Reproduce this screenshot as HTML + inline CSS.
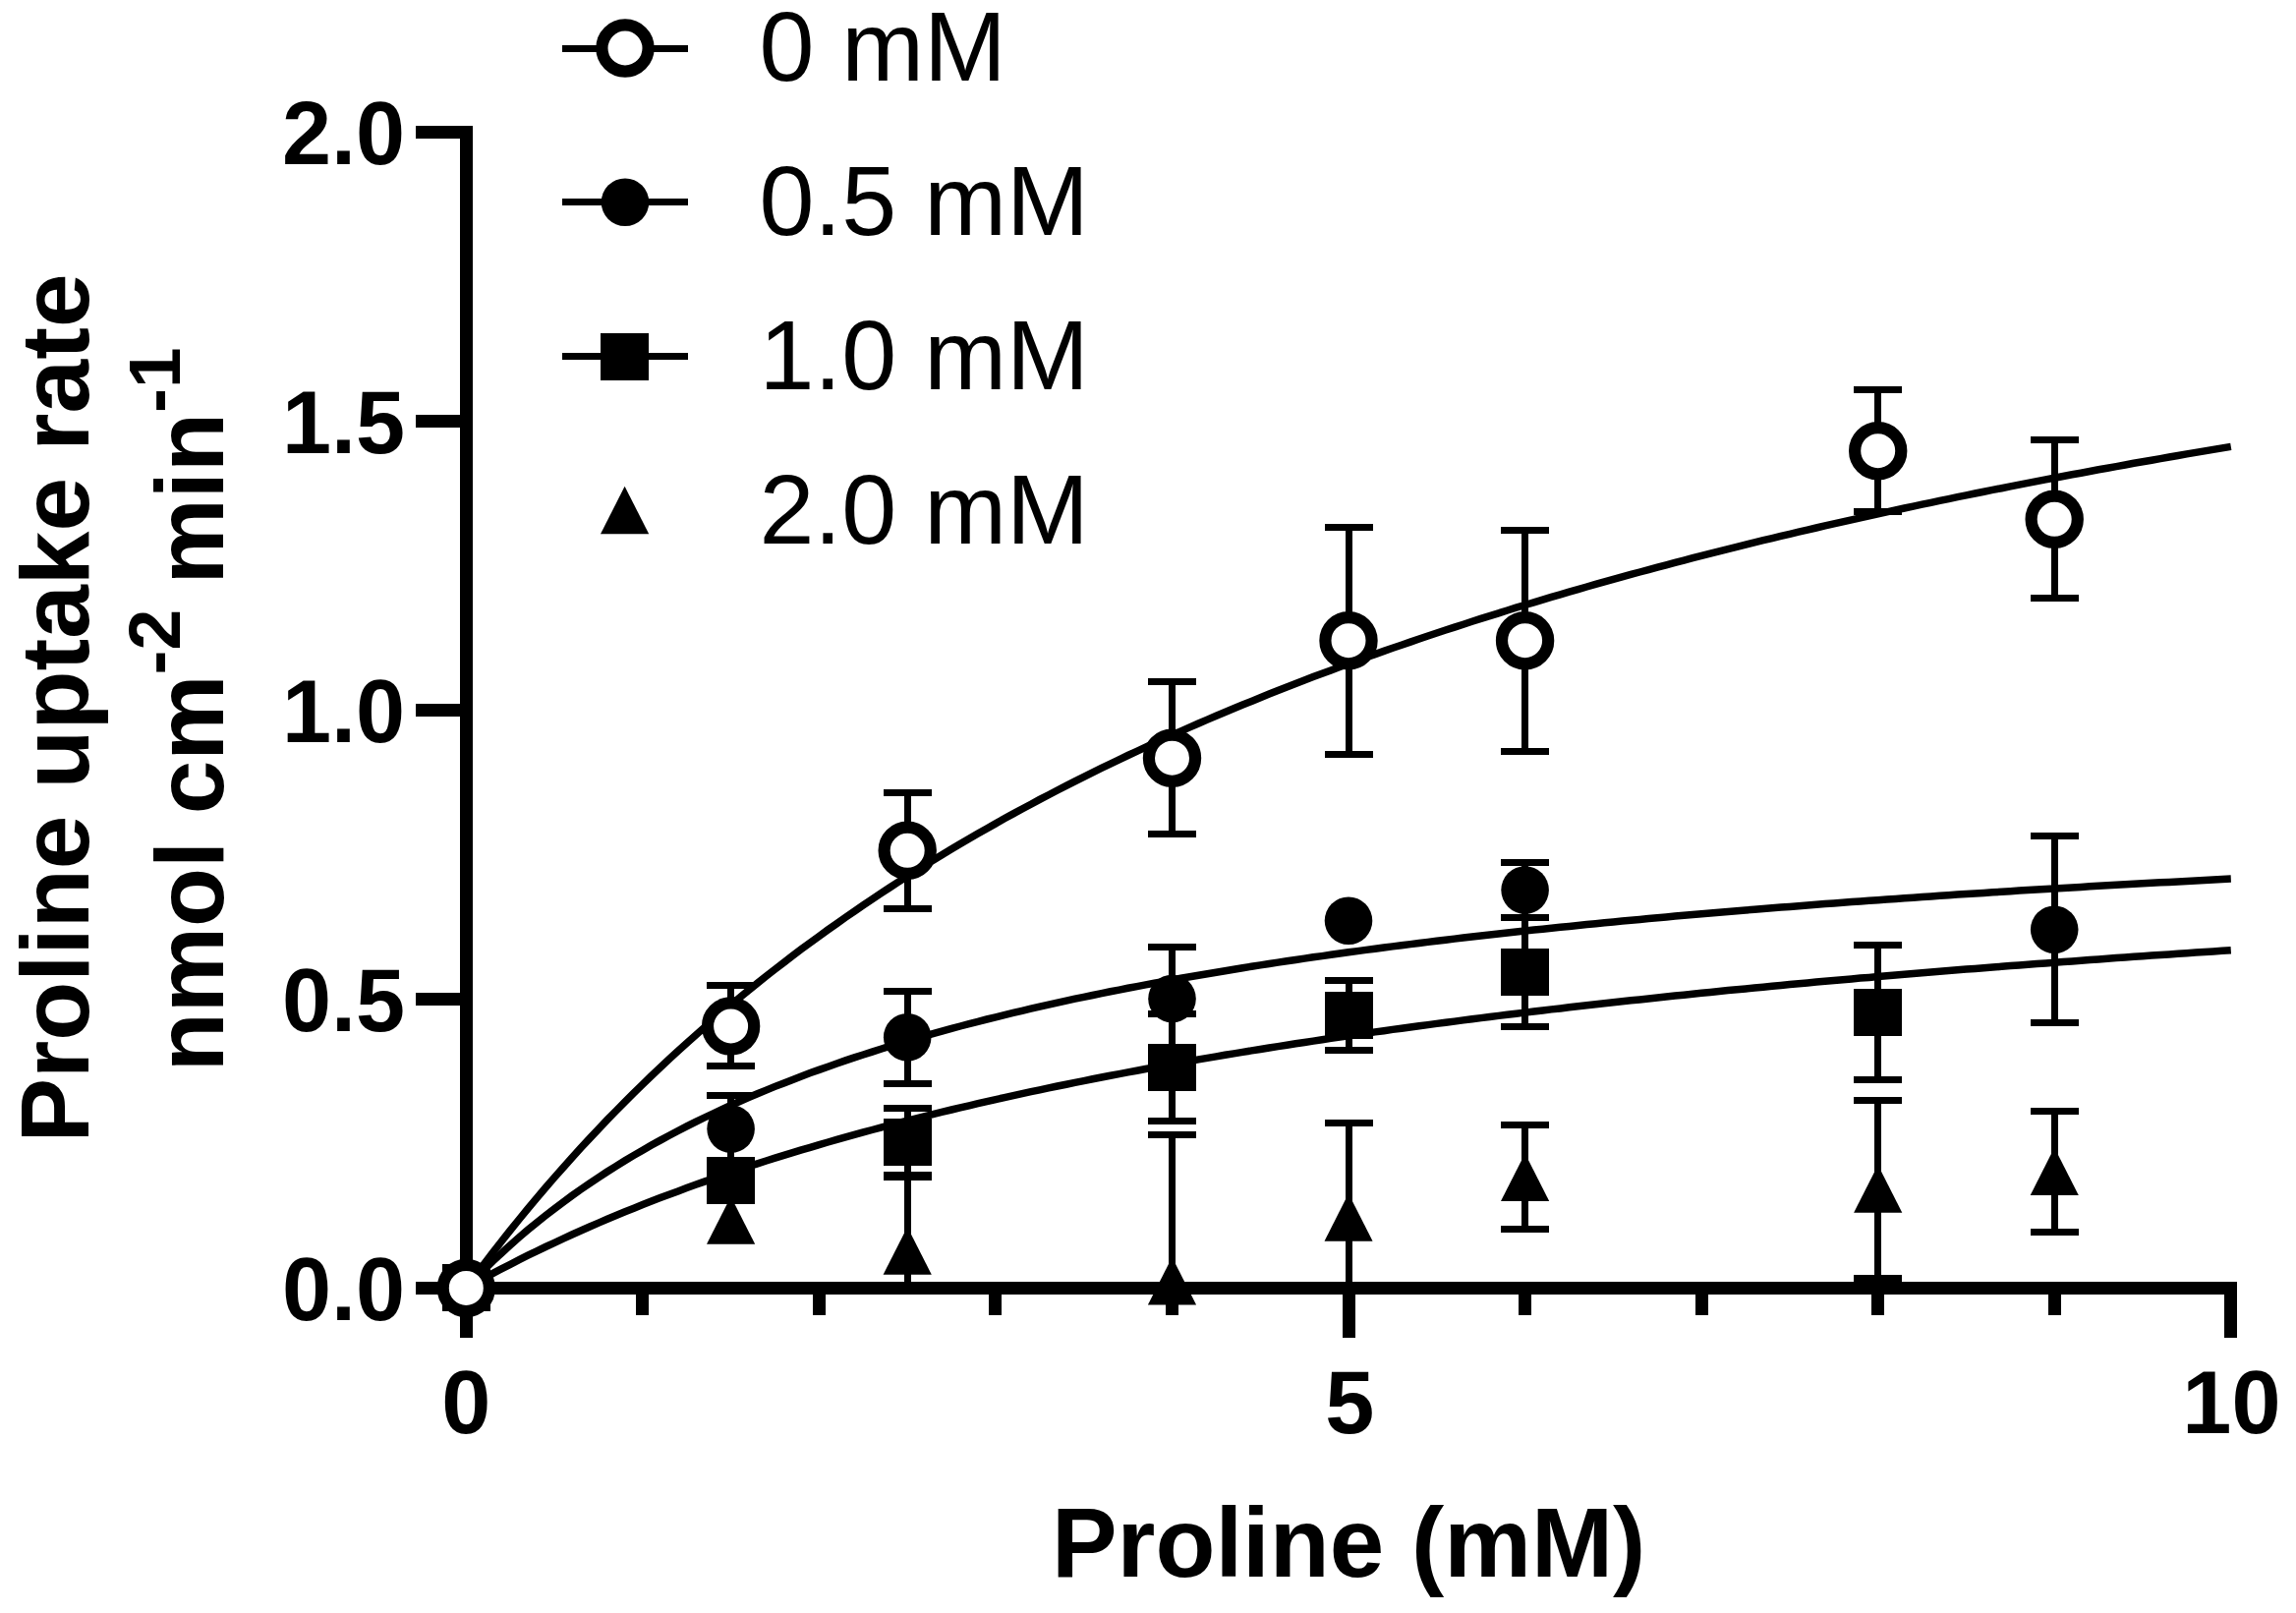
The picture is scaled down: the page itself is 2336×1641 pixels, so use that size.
<!DOCTYPE html>
<html lang="en"><head><meta charset="utf-8"><title>Proline uptake rate</title>
<style>html,body{margin:0;padding:0;background:#fff;}body{width:2336px;height:1641px;overflow:hidden;}svg{display:block;}text{font-family:"Liberation Sans",Arial,Helvetica,sans-serif;fill:#000;}.b{font-weight:bold;}</style>
</head><body>
<svg width="2336" height="1641" viewBox="0 0 2336 1641">
<rect x="0" y="0" width="2336" height="1641" fill="#fff"/>
<g fill="#000" shape-rendering="crispEdges">
<rect x="468" y="128" width="13" height="1189"/>
<rect x="468" y="1304" width="1808" height="13"/>
<rect x="423" y="1304.0" width="46" height="13"/>
<rect x="423" y="1010.0" width="46" height="13"/>
<rect x="423" y="716.0" width="46" height="13"/>
<rect x="423" y="422.0" width="46" height="13"/>
<rect x="423" y="128.0" width="46" height="13"/>
<rect x="468.0" y="1316" width="13" height="45.0"/>
<rect x="647.0" y="1316" width="13" height="22.0"/>
<rect x="827.0" y="1316" width="13" height="22.0"/>
<rect x="1006.0" y="1316" width="13" height="22.0"/>
<rect x="1186.0" y="1316" width="13" height="22.0"/>
<rect x="1366.0" y="1316" width="13" height="45.0"/>
<rect x="1545.0" y="1316" width="13" height="22.0"/>
<rect x="1725.0" y="1316" width="13" height="22.0"/>
<rect x="1904.0" y="1316" width="13" height="22.0"/>
<rect x="2084.0" y="1316" width="13" height="22.0"/>
<rect x="2263.0" y="1316" width="13" height="45.0"/>
</g>
<g fill="none" stroke="#000" stroke-width="7.5" stroke-linecap="butt" stroke-linejoin="round">
<path d="M474.3,1310.4 L483.3,1298.2 L492.3,1286.2 L501.2,1274.5 L510.2,1263.0 L519.2,1251.6 L528.2,1240.5 L537.1,1229.6 L546.1,1218.8 L555.1,1208.3 L564.1,1197.9 L573.1,1187.7 L582.0,1177.7 L591.0,1167.8 L600.0,1158.1 L609.0,1148.6 L617.9,1139.2 L626.9,1130.0 L635.9,1120.9 L644.9,1111.9 L653.9,1103.1 L662.8,1094.5 L671.8,1086.0 L680.8,1077.6 L689.8,1069.3 L698.7,1061.2 L707.7,1053.2 L716.7,1045.3 L725.7,1037.5 L734.6,1029.8 L743.6,1022.3 L752.6,1014.8 L761.6,1007.5 L770.6,1000.3 L779.5,993.1 L788.5,986.1 L797.5,979.2 L806.5,972.3 L815.4,965.6 L824.4,959.0 L833.4,952.4 L842.4,945.9 L851.4,939.6 L860.3,933.3 L869.3,927.1 L878.3,920.9 L887.3,914.9 L896.2,908.9 L905.2,903.0 L914.2,897.2 L923.2,891.5 L932.2,885.8 L941.1,880.2 L950.1,874.7 L959.1,869.2 L968.1,863.8 L977.0,858.5 L986.0,853.3 L995.0,848.1 L1004.0,842.9 L1013.0,837.9 L1021.9,832.8 L1030.9,827.9 L1039.9,823.0 L1048.9,818.2 L1057.8,813.4 L1066.8,808.7 L1075.8,804.0 L1084.8,799.4 L1093.7,794.8 L1102.7,790.3 L1111.7,785.8 L1120.7,781.4 L1129.7,777.1 L1138.6,772.8 L1147.6,768.5 L1156.6,764.3 L1165.6,760.1 L1174.5,756.0 L1183.5,751.9 L1192.5,747.9 L1201.5,743.9 L1210.5,739.9 L1219.4,736.0 L1228.4,732.1 L1237.4,728.3 L1246.4,724.5 L1255.3,720.7 L1264.3,717.0 L1273.3,713.4 L1282.3,709.7 L1291.3,706.1 L1300.2,702.5 L1309.2,699.0 L1318.2,695.5 L1327.2,692.1 L1336.1,688.6 L1345.1,685.2 L1354.1,681.9 L1363.1,678.6 L1372.0,675.3 L1381.0,672.0 L1390.0,668.8 L1399.0,665.6 L1408.0,662.4 L1416.9,659.3 L1425.9,656.2 L1434.9,653.1 L1443.9,650.0 L1452.8,647.0 L1461.8,644.0 L1470.8,641.0 L1479.8,638.1 L1488.8,635.2 L1497.7,632.3 L1506.7,629.4 L1515.7,626.6 L1524.7,623.8 L1533.6,621.0 L1542.6,618.2 L1551.6,615.5 L1560.6,612.8 L1569.6,610.1 L1578.5,607.4 L1587.5,604.8 L1596.5,602.2 L1605.5,599.6 L1614.4,597.0 L1623.4,594.4 L1632.4,591.9 L1641.4,589.4 L1650.4,586.9 L1659.3,584.4 L1668.3,582.0 L1677.3,579.6 L1686.3,577.2 L1695.2,574.8 L1704.2,572.4 L1713.2,570.1 L1722.2,567.7 L1731.2,565.4 L1740.1,563.1 L1749.1,560.8 L1758.1,558.6 L1767.1,556.4 L1776.0,554.1 L1785.0,551.9 L1794.0,549.7 L1803.0,547.6 L1811.9,545.4 L1820.9,543.3 L1829.9,541.2 L1838.9,539.1 L1847.9,537.0 L1856.8,534.9 L1865.8,532.9 L1874.8,530.8 L1883.8,528.8 L1892.7,526.8 L1901.7,524.8 L1910.7,522.8 L1919.7,520.9 L1928.7,518.9 L1937.6,517.0 L1946.6,515.1 L1955.6,513.2 L1964.6,511.3 L1973.5,509.4 L1982.5,507.6 L1991.5,505.7 L2000.5,503.9 L2009.5,502.0 L2018.4,500.2 L2027.4,498.4 L2036.4,496.7 L2045.4,494.9 L2054.3,493.1 L2063.3,491.4 L2072.3,489.6 L2081.3,487.9 L2090.2,486.2 L2099.2,484.5 L2108.2,482.8 L2117.2,481.2 L2126.2,479.5 L2135.1,477.8 L2144.1,476.2 L2153.1,474.6 L2162.1,473.0 L2171.0,471.3 L2180.0,469.8 L2189.0,468.2 L2198.0,466.6 L2207.0,465.0 L2215.9,463.5 L2224.9,461.9 L2233.9,460.4 L2242.9,458.9 L2251.8,457.4 L2260.8,455.9 L2269.8,454.4"/>
<path d="M474.3,1310.4 L483.3,1301.1 L492.3,1292.0 L501.2,1283.3 L510.2,1274.9 L519.2,1266.7 L528.2,1258.8 L537.1,1251.2 L546.1,1243.8 L555.1,1236.6 L564.1,1229.7 L573.1,1222.9 L582.0,1216.4 L591.0,1210.0 L600.0,1203.8 L609.0,1197.8 L617.9,1192.0 L626.9,1186.3 L635.9,1180.8 L644.9,1175.4 L653.9,1170.2 L662.8,1165.1 L671.8,1160.1 L680.8,1155.3 L689.8,1150.5 L698.7,1145.9 L707.7,1141.4 L716.7,1137.0 L725.7,1132.8 L734.6,1128.6 L743.6,1124.5 L752.6,1120.5 L761.6,1116.6 L770.6,1112.8 L779.5,1109.1 L788.5,1105.4 L797.5,1101.9 L806.5,1098.4 L815.4,1095.0 L824.4,1091.6 L833.4,1088.4 L842.4,1085.2 L851.4,1082.0 L860.3,1078.9 L869.3,1075.9 L878.3,1073.0 L887.3,1070.1 L896.2,1067.2 L905.2,1064.4 L914.2,1061.7 L923.2,1059.0 L932.2,1056.4 L941.1,1053.8 L950.1,1051.3 L959.1,1048.8 L968.1,1046.4 L977.0,1044.0 L986.0,1041.6 L995.0,1039.3 L1004.0,1037.0 L1013.0,1034.8 L1021.9,1032.6 L1030.9,1030.4 L1039.9,1028.3 L1048.9,1026.2 L1057.8,1024.1 L1066.8,1022.1 L1075.8,1020.1 L1084.8,1018.2 L1093.7,1016.2 L1102.7,1014.3 L1111.7,1012.5 L1120.7,1010.6 L1129.7,1008.8 L1138.6,1007.1 L1147.6,1005.3 L1156.6,1003.6 L1165.6,1001.9 L1174.5,1000.2 L1183.5,998.6 L1192.5,996.9 L1201.5,995.3 L1210.5,993.8 L1219.4,992.2 L1228.4,990.7 L1237.4,989.2 L1246.4,987.7 L1255.3,986.2 L1264.3,984.7 L1273.3,983.3 L1282.3,981.9 L1291.3,980.5 L1300.2,979.1 L1309.2,977.8 L1318.2,976.5 L1327.2,975.1 L1336.1,973.8 L1345.1,972.6 L1354.1,971.3 L1363.1,970.0 L1372.0,968.8 L1381.0,967.6 L1390.0,966.4 L1399.0,965.2 L1408.0,964.0 L1416.9,962.9 L1425.9,961.7 L1434.9,960.6 L1443.9,959.5 L1452.8,958.4 L1461.8,957.3 L1470.8,956.2 L1479.8,955.1 L1488.8,954.1 L1497.7,953.0 L1506.7,952.0 L1515.7,951.0 L1524.7,950.0 L1533.6,949.0 L1542.6,948.0 L1551.6,947.1 L1560.6,946.1 L1569.6,945.2 L1578.5,944.2 L1587.5,943.3 L1596.5,942.4 L1605.5,941.5 L1614.4,940.6 L1623.4,939.7 L1632.4,938.8 L1641.4,937.9 L1650.4,937.1 L1659.3,936.2 L1668.3,935.4 L1677.3,934.6 L1686.3,933.7 L1695.2,932.9 L1704.2,932.1 L1713.2,931.3 L1722.2,930.5 L1731.2,929.8 L1740.1,929.0 L1749.1,928.2 L1758.1,927.5 L1767.1,926.7 L1776.0,926.0 L1785.0,925.2 L1794.0,924.5 L1803.0,923.8 L1811.9,923.1 L1820.9,922.4 L1829.9,921.7 L1838.9,921.0 L1847.9,920.3 L1856.8,919.6 L1865.8,918.9 L1874.8,918.3 L1883.8,917.6 L1892.7,917.0 L1901.7,916.3 L1910.7,915.7 L1919.7,915.0 L1928.7,914.4 L1937.6,913.8 L1946.6,913.2 L1955.6,912.5 L1964.6,911.9 L1973.5,911.3 L1982.5,910.7 L1991.5,910.1 L2000.5,909.5 L2009.5,909.0 L2018.4,908.4 L2027.4,907.8 L2036.4,907.3 L2045.4,906.7 L2054.3,906.1 L2063.3,905.6 L2072.3,905.0 L2081.3,904.5 L2090.2,904.0 L2099.2,903.4 L2108.2,902.9 L2117.2,902.4 L2126.2,901.8 L2135.1,901.3 L2144.1,900.8 L2153.1,900.3 L2162.1,899.8 L2171.0,899.3 L2180.0,898.8 L2189.0,898.3 L2198.0,897.8 L2207.0,897.4 L2215.9,896.9 L2224.9,896.4 L2233.9,895.9 L2242.9,895.5 L2251.8,895.0 L2260.8,894.5 L2269.8,894.1"/>
<path d="M474.3,1310.4 L483.3,1305.4 L492.3,1300.5 L501.2,1295.6 L510.2,1290.9 L519.2,1286.3 L528.2,1281.7 L537.1,1277.2 L546.1,1272.8 L555.1,1268.5 L564.1,1264.3 L573.1,1260.1 L582.0,1256.0 L591.0,1252.0 L600.0,1248.0 L609.0,1244.1 L617.9,1240.3 L626.9,1236.5 L635.9,1232.8 L644.9,1229.2 L653.9,1225.6 L662.8,1222.1 L671.8,1218.6 L680.8,1215.2 L689.8,1211.9 L698.7,1208.6 L707.7,1205.3 L716.7,1202.1 L725.7,1199.0 L734.6,1195.9 L743.6,1192.8 L752.6,1189.8 L761.6,1186.8 L770.6,1183.9 L779.5,1181.0 L788.5,1178.2 L797.5,1175.4 L806.5,1172.7 L815.4,1169.9 L824.4,1167.3 L833.4,1164.6 L842.4,1162.0 L851.4,1159.4 L860.3,1156.9 L869.3,1154.4 L878.3,1151.9 L887.3,1149.5 L896.2,1147.1 L905.2,1144.7 L914.2,1142.4 L923.2,1140.1 L932.2,1137.8 L941.1,1135.6 L950.1,1133.4 L959.1,1131.2 L968.1,1129.0 L977.0,1126.9 L986.0,1124.8 L995.0,1122.7 L1004.0,1120.6 L1013.0,1118.6 L1021.9,1116.6 L1030.9,1114.6 L1039.9,1112.6 L1048.9,1110.7 L1057.8,1108.8 L1066.8,1106.9 L1075.8,1105.0 L1084.8,1103.2 L1093.7,1101.4 L1102.7,1099.6 L1111.7,1097.8 L1120.7,1096.0 L1129.7,1094.3 L1138.6,1092.6 L1147.6,1090.9 L1156.6,1089.2 L1165.6,1087.5 L1174.5,1085.9 L1183.5,1084.3 L1192.5,1082.6 L1201.5,1081.1 L1210.5,1079.5 L1219.4,1077.9 L1228.4,1076.4 L1237.4,1074.9 L1246.4,1073.3 L1255.3,1071.9 L1264.3,1070.4 L1273.3,1068.9 L1282.3,1067.5 L1291.3,1066.0 L1300.2,1064.6 L1309.2,1063.2 L1318.2,1061.8 L1327.2,1060.5 L1336.1,1059.1 L1345.1,1057.7 L1354.1,1056.4 L1363.1,1055.1 L1372.0,1053.8 L1381.0,1052.5 L1390.0,1051.2 L1399.0,1049.9 L1408.0,1048.7 L1416.9,1047.4 L1425.9,1046.2 L1434.9,1045.0 L1443.9,1043.8 L1452.8,1042.6 L1461.8,1041.4 L1470.8,1040.2 L1479.8,1039.1 L1488.8,1037.9 L1497.7,1036.8 L1506.7,1035.6 L1515.7,1034.5 L1524.7,1033.4 L1533.6,1032.3 L1542.6,1031.2 L1551.6,1030.1 L1560.6,1029.0 L1569.6,1028.0 L1578.5,1026.9 L1587.5,1025.9 L1596.5,1024.8 L1605.5,1023.8 L1614.4,1022.8 L1623.4,1021.8 L1632.4,1020.8 L1641.4,1019.8 L1650.4,1018.8 L1659.3,1017.8 L1668.3,1016.9 L1677.3,1015.9 L1686.3,1015.0 L1695.2,1014.0 L1704.2,1013.1 L1713.2,1012.2 L1722.2,1011.2 L1731.2,1010.3 L1740.1,1009.4 L1749.1,1008.5 L1758.1,1007.6 L1767.1,1006.8 L1776.0,1005.9 L1785.0,1005.0 L1794.0,1004.2 L1803.0,1003.3 L1811.9,1002.5 L1820.9,1001.6 L1829.9,1000.8 L1838.9,1000.0 L1847.9,999.1 L1856.8,998.3 L1865.8,997.5 L1874.8,996.7 L1883.8,995.9 L1892.7,995.1 L1901.7,994.4 L1910.7,993.6 L1919.7,992.8 L1928.7,992.0 L1937.6,991.3 L1946.6,990.5 L1955.6,989.8 L1964.6,989.0 L1973.5,988.3 L1982.5,987.6 L1991.5,986.8 L2000.5,986.1 L2009.5,985.4 L2018.4,984.7 L2027.4,984.0 L2036.4,983.3 L2045.4,982.6 L2054.3,981.9 L2063.3,981.2 L2072.3,980.5 L2081.3,979.9 L2090.2,979.2 L2099.2,978.5 L2108.2,977.9 L2117.2,977.2 L2126.2,976.5 L2135.1,975.9 L2144.1,975.3 L2153.1,974.6 L2162.1,974.0 L2171.0,973.3 L2180.0,972.7 L2189.0,972.1 L2198.0,971.5 L2207.0,970.9 L2215.9,970.3 L2224.9,969.7 L2233.9,969.1 L2242.9,968.5 L2251.8,967.9 L2260.8,967.3 L2269.8,966.7"/>
</g>
<g fill="#000" shape-rendering="crispEdges">
<rect x="920.0" y="1197.5" width="7" height="112.5"/><rect x="899.0" y="1194.0" width="49" height="7"/>
<rect x="1189.0" y="1154.5" width="7" height="155.5"/><rect x="1168.0" y="1151.0" width="49" height="7"/>
<rect x="1369.0" y="1142.6" width="7" height="167.4"/><rect x="1348.0" y="1139.0" width="49" height="7"/>
<rect x="1548.0" y="1144.6" width="7" height="105.8"/><rect x="1527.0" y="1141.0" width="49" height="7"/><rect x="1527.0" y="1247.0" width="49" height="7"/>
<rect x="1907.0" y="1119.5" width="7" height="181.0"/><rect x="1886.0" y="1116.0" width="49" height="7"/><rect x="1886.0" y="1297.0" width="49" height="7"/>
<rect x="2087.0" y="1130.5" width="7" height="122.8"/><rect x="2066.0" y="1127.0" width="49" height="7"/><rect x="2066.0" y="1250.0" width="49" height="7"/>
<rect x="920.0" y="1127.0" width="7" height="69.0"/><rect x="899.0" y="1124.0" width="49" height="7"/><rect x="899.0" y="1192.0" width="49" height="7"/>
<rect x="1189.0" y="1031.1" width="7" height="109.4"/><rect x="1168.0" y="1028.0" width="49" height="7"/><rect x="1168.0" y="1137.0" width="49" height="7"/>
<rect x="1369.0" y="997.5" width="7" height="71.0"/><rect x="1348.0" y="994.0" width="49" height="7"/><rect x="1348.0" y="1065.0" width="49" height="7"/>
<rect x="1548.0" y="933.4" width="7" height="111.0"/><rect x="1527.0" y="930.0" width="49" height="7"/><rect x="1527.0" y="1041.0" width="49" height="7"/>
<rect x="1907.0" y="961.5" width="7" height="137.1"/><rect x="1886.0" y="958.0" width="49" height="7"/><rect x="1886.0" y="1095.0" width="49" height="7"/>
<rect x="740.0" y="1114.6" width="7" height="67.8"/><rect x="719.0" y="1111.0" width="49" height="7"/><rect x="719.0" y="1179.0" width="49" height="7"/>
<rect x="920.0" y="1008.6" width="7" height="93.8"/><rect x="899.0" y="1005.0" width="49" height="7"/><rect x="899.0" y="1099.0" width="49" height="7"/>
<rect x="1189.0" y="963.8" width="7" height="104.4"/><rect x="1168.0" y="960.0" width="49" height="7"/><rect x="1168.0" y="1065.0" width="49" height="7"/>
<rect x="1548.0" y="877.6" width="7" height="55.8"/><rect x="1527.0" y="874.0" width="49" height="7"/><rect x="1527.0" y="930.0" width="49" height="7"/>
<rect x="2087.0" y="850.8" width="7" height="189.7"/><rect x="2066.0" y="847.0" width="49" height="7"/><rect x="2066.0" y="1037.0" width="49" height="7"/>
<rect x="450.0" y="1286.0" width="49" height="48"/>
<rect x="719.0" y="1177.0" width="49" height="48"/>
<rect x="899.0" y="1138.0" width="49" height="48"/>
<rect x="1168.0" y="1062.0" width="49" height="48"/>
<rect x="1348.0" y="1009.0" width="49" height="48"/>
<rect x="1527.0" y="965.0" width="49" height="48"/>
<rect x="1886.0" y="1006.0" width="49" height="48"/>
</g>
<g fill="#000">
<path d="M743.6,1217.2 L768.2,1265.8 L719.0,1265.8 Z"/>
<path d="M923.2,1248.2 L947.8,1296.8 L898.6,1296.8 Z"/>
<path d="M1192.5,1279.0 L1217.1,1327.5 L1167.9,1327.5 Z"/>
<path d="M1372.0,1214.3 L1396.6,1262.8 L1347.5,1262.8 Z"/>
<path d="M1551.6,1173.5 L1576.2,1222.0 L1527.0,1222.0 Z"/>
<path d="M1910.7,1185.2 L1935.3,1233.8 L1886.1,1233.8 Z"/>
<path d="M2090.2,1167.5 L2114.8,1216.0 L2065.7,1216.0 Z"/>
<circle cx="743.6" cy="1148.5" r="24.3"/>
<circle cx="923.2" cy="1055.3" r="24.3"/>
<circle cx="1192.5" cy="1016.0" r="24.3"/>
<circle cx="1372.0" cy="936.8" r="24.3"/>
<circle cx="1551.6" cy="905.5" r="24.3"/>
<circle cx="2090.2" cy="945.7" r="24.3"/>
</g>
<g fill="#000" shape-rendering="crispEdges">
<rect x="740.0" y="1002.5" width="7" height="81.9"/><rect x="719.0" y="999.0" width="49" height="7"/><rect x="719.0" y="1081.0" width="49" height="7"/>
<rect x="920.0" y="806.4" width="7" height="118.0"/><rect x="899.0" y="803.0" width="49" height="7"/><rect x="899.0" y="921.0" width="49" height="7"/>
<rect x="1189.0" y="693.6" width="7" height="155.0"/><rect x="1168.0" y="690.0" width="49" height="7"/><rect x="1168.0" y="845.0" width="49" height="7"/>
<rect x="1369.0" y="536.5" width="7" height="230.8"/><rect x="1348.0" y="533.0" width="49" height="7"/><rect x="1348.0" y="764.0" width="49" height="7"/>
<rect x="1548.0" y="539.0" width="7" height="225.5"/><rect x="1527.0" y="536.0" width="49" height="7"/><rect x="1527.0" y="761.0" width="49" height="7"/>
<rect x="1907.0" y="396.4" width="7" height="124.3"/><rect x="1886.0" y="393.0" width="49" height="7"/><rect x="1886.0" y="517.0" width="49" height="7"/>
<rect x="2087.0" y="447.6" width="7" height="161.0"/><rect x="2066.0" y="444.0" width="49" height="7"/><rect x="2066.0" y="605.0" width="49" height="7"/>
</g>
<g>
<circle cx="474.3" cy="1310.4" r="23.6" fill="#fff" stroke="#000" stroke-width="12.2"/>
<circle cx="743.6" cy="1044.0" r="23.6" fill="#fff" stroke="#000" stroke-width="12.2"/>
<circle cx="923.2" cy="865.3" r="23.6" fill="#fff" stroke="#000" stroke-width="12.2"/>
<circle cx="1192.5" cy="771.2" r="23.6" fill="#fff" stroke="#000" stroke-width="12.2"/>
<circle cx="1372.0" cy="651.7" r="23.6" fill="#fff" stroke="#000" stroke-width="12.2"/>
<circle cx="1551.6" cy="651.7" r="23.6" fill="#fff" stroke="#000" stroke-width="12.2"/>
<circle cx="1910.7" cy="458.7" r="23.6" fill="#fff" stroke="#000" stroke-width="12.2"/>
<circle cx="2090.2" cy="528.3" r="23.6" fill="#fff" stroke="#000" stroke-width="12.2"/>
</g>
<g fill="#000" shape-rendering="crispEdges">
<rect x="572" y="46" width="128" height="7"/>
<rect x="572" y="202" width="128" height="7"/>
<rect x="572" y="359" width="128" height="7"/>
<rect x="611.0" y="339.0" width="49" height="48"/>
</g>
<circle cx="636.0" cy="49.0" r="23.6" fill="#fff" stroke="#000" stroke-width="12.2"/>
<g fill="#000"><circle cx="636.0" cy="205.8" r="24.3"/><path d="M635.6,494.8 L660.2,543.2 L611.0,543.2 Z"/></g>
<g font-size="100.6">
<text x="772.4" y="81.8">0 mM</text>
<text x="772.4" y="238.6">0.5 mM</text>
<text x="772.4" y="395.9">1.0 mM</text>
<text x="772.4" y="553">2.0 mM</text>
</g>
<g class="b" font-size="90">
<text x="412" y="1342.9" text-anchor="end">0.0</text>
<text x="412" y="1048.9" text-anchor="end">0.5</text>
<text x="412" y="754.9" text-anchor="end">1.0</text>
<text x="412" y="460.9" text-anchor="end">1.5</text>
<text x="412" y="166.9" text-anchor="end">2.0</text>
<text x="474.3" y="1458" text-anchor="middle">0</text>
<text x="1373.3" y="1458" text-anchor="middle">5</text>
<text x="2270.4" y="1458" text-anchor="middle">10</text>
</g>
<text class="b" font-size="99.8" x="1372.2" y="1603.6" text-anchor="middle">Proline (mM)</text>
<g class="b" font-size="98.2" text-anchor="middle">
<text transform="translate(90,720.5) rotate(-90)">Proline uptake rate</text>
<text transform="translate(227.2,721.7) rotate(-90)">nmol cm<tspan font-size="75" dy="-44.3">-2</tspan><tspan dy="44.3" dx="-2"> min</tspan><tspan font-size="75" dy="-44.3">-1</tspan></text>
</g>
</svg>
</body></html>
